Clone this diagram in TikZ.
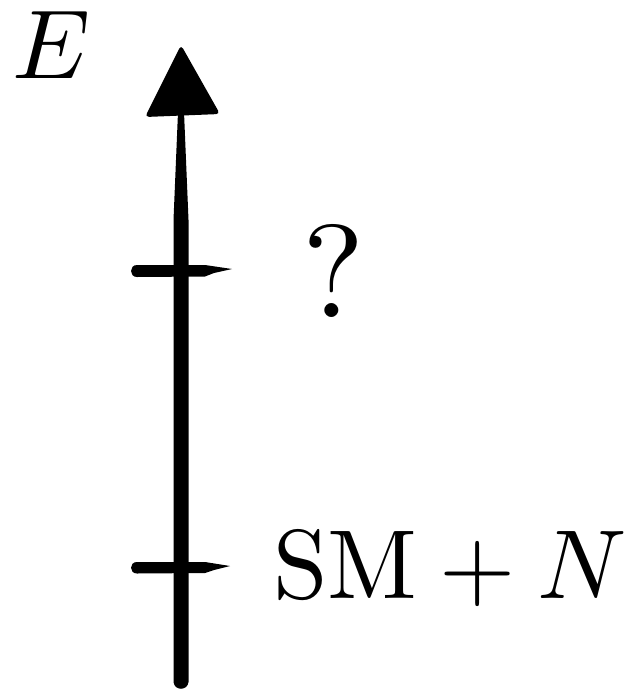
\documentclass[tikz,border=0pt]{standalone}
\usepackage{graphicx}
\newcommand{\bigtxt}[1]{\scalebox{9.8}{#1}}
\begin{document}
\begin{tikzpicture}[x=1pt,y=-1pt,
  ink/.style={fill=black,draw=none},
  lbl/.style={inner sep=0pt}]
\useasboundingbox (0,0) rectangle (632,691);
% axis shaft (tapered brush stroke)
\fill[ink] (178,112) -- (184,112) -- (188.5,220) -- (188.5,682) .. controls (187.5,691) and (174.5,691) .. (173.5,682) -- (173.5,220) -- cycle;
% arrowhead
\fill[ink, rounded corners=4pt] (181,45) -- (220,114) -- (145,117) -- cycle;
% ticks
\fill[ink] (137,265) -- (205,265) -- (232,269) -- (214,273) -- (205,276.5) -- (137,277) .. controls (129,277) and (129,265) .. (137,265) -- cycle;
\fill[ink] (137,562) -- (205,562) -- (230,566) -- (214,570) -- (205,573) -- (137,573.5) .. controls (129,573.5) and (129,562) .. (137,562) -- cycle;
% labels
\node[lbl, anchor=base west] (E) at (12,78) {\bigtxt{$E$}};
\node[lbl, anchor=base west] (q) at (302,317) {\scalebox{13.2}{?}};
\node[lbl, anchor=base west] (sm) at (273,598) {\bigtxt{$\mathrm{SM}+N$}};
\end{tikzpicture}
\end{document}
